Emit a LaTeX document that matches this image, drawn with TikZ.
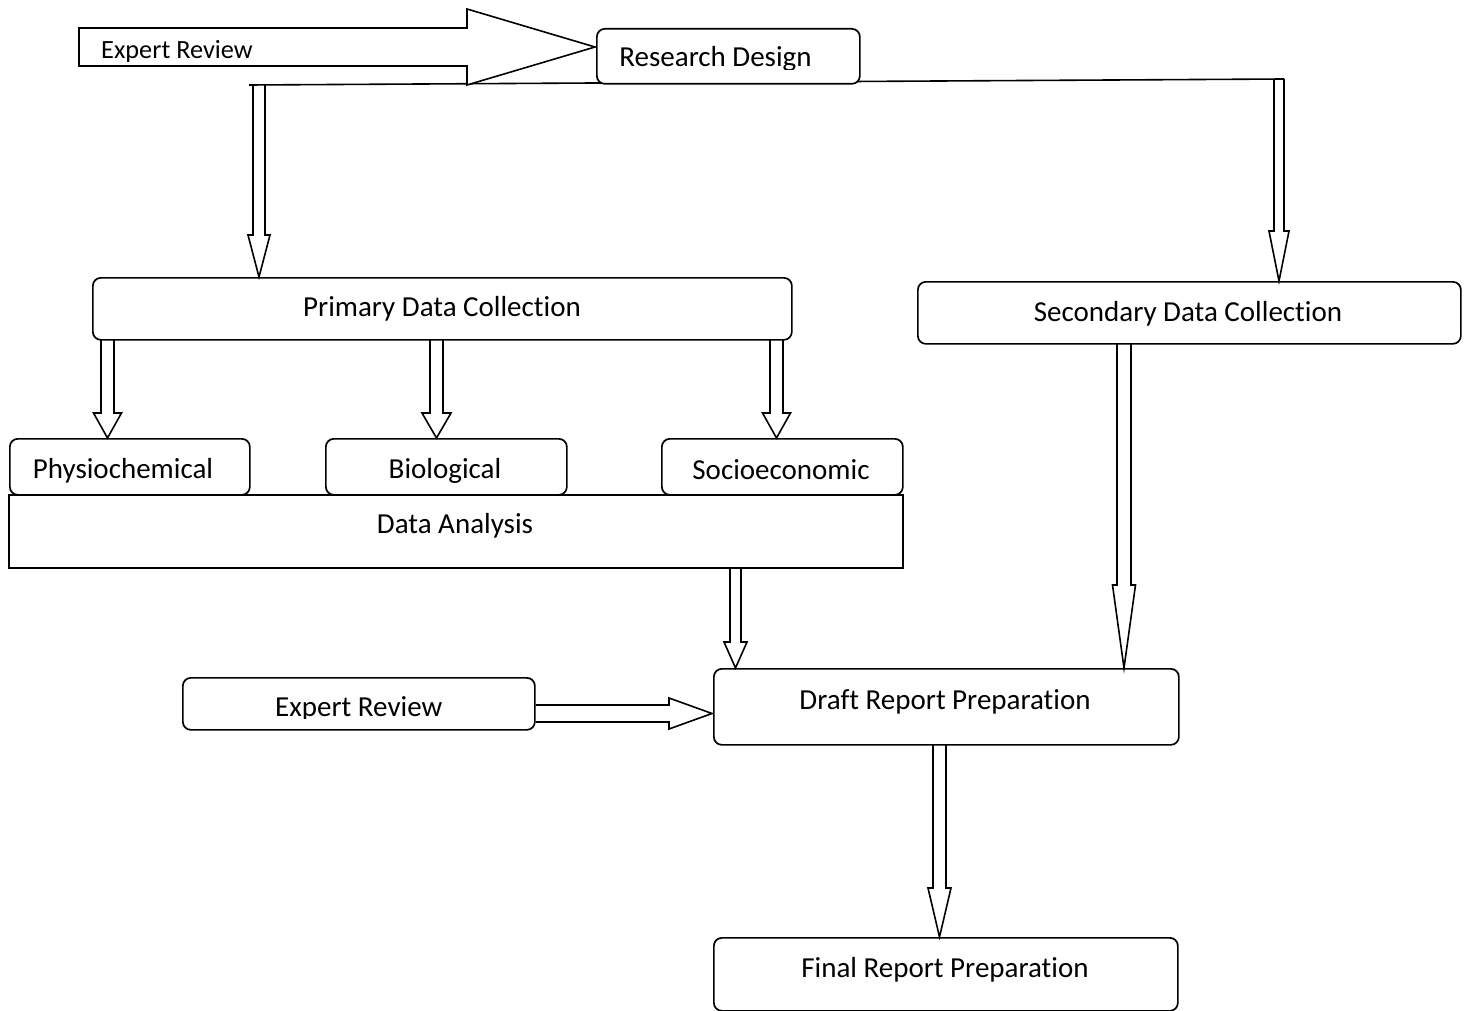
\documentclass[tikz,border=0pt]{standalone}
\usepackage{fontspec}
\setmainfont{Carlito}[Ligatures={NoCommon,NoContextual}]
\tikzset{
  rbox/.style={draw, line width=1.7pt, rounded corners=8pt, fill=white, inner sep=0pt, anchor=north west},
  sbox/.style={draw, line width=1.7pt, fill=white, inner sep=0pt, anchor=north west},
  arr/.style={draw, line width=1.6pt, line join=miter},
  lbl/.style={inner sep=0pt, anchor=base, font=\fontsize{29}{34}\selectfont},
  lbls/.style={inner sep=0pt, anchor=base west, font=\fontsize{26.3}{31}\selectfont}
}
% #1 name, #2 x1, #3 y1, #4 x2, #5 y2, #6 style
\newcommand\bx[6]{\node[#6, minimum width={#4-#2}, minimum height={#5-#3}] (#1) at (#2,#3) {};}
% down block arrow: #1 x center, #2 y top, #3 y head base, #4 y tip, #5 shaft half width, #6 head half width
\newcommand\blkdown[6]{\draw[arr] ({#1-#5},#2) -- ({#1-#5},#3) -- ({#1-#6},#3) -- (#1,#4) -- ({#1+#6},#3) -- ({#1+#5},#3) -- ({#1+#5},#2);}
\begin{document}
\begin{tikzpicture}[x=1pt,y=-1pt]
\useasboundingbox (0,0) rectangle (1467,1011);
% top line from the big arrow to the right branch
\coordinate (lineL) at (249,85);
\coordinate (lineR) at (1284,79);
\draw[line width=1.6pt] (lineL) -- (lineR);
% big top block arrow
\draw[arr, fill=white] (79,28) -- (467,28) -- (467,9) -- (595,47) -- (467,85) -- (467,66) -- (79,66) -- cycle;
\begin{scope}
\clip (79,0) rectangle (467,62);
\node[lbls] (er1) at (101,59) {Expert Review};
\end{scope}
% boxes
\bx{rd}{596}{28}{859}{83}{rbox}
\begin{scope}
\clip (596,0) rectangle (859,70);
\node[lbl] (trd) at (715.5,67) {Research Design};
\end{scope}
\bx{pdc}{92}{277}{791}{339}{rbox}
\node[lbl] (tpdc) at (442,316) {Primary Data Collection};
\bx{sdc}{917}{281}{1460}{343}{rbox}
\node[lbl] (tsdc) at (1188,321) {Secondary Data Collection};
\bx{da}{8}{494}{902}{567}{sbox}
\node[lbl] (tda) at (455,533) {Data Analysis};
\bx{phy}{9}{438}{249}{494}{rbox}
\bx{bio}{325}{438}{566}{494}{rbox}
\bx{soc}{661}{438}{902}{494}{rbox}
\begin{scope}
\clip (0,430) rectangle (600,482);
\node[lbl] (tphy) at (123,478) {Physiochemical};
\node[lbl] (tbio) at (445,478) {Biological};
\end{scope}
\node[lbl] (tsoc) at (781,479) {Socioeconomic};
\bx{drf}{713}{668}{1178}{744}{rbox}
\node[lbl] (tdrf) at (945,709) {Draft Report Preparation};
\bx{er2}{182}{677}{534}{729}{rbox}
\begin{scope}
\clip (182,670) rectangle (534,718);
\node[lbl, anchor=base west] (ter2) at (275,716) {Expert Review};
\end{scope}
\bx{fin}{713}{937}{1177}{1010}{rbox}
\node[lbl] (tfin) at (945,977) {Final Report Preparation};
% block arrows
\blkdown{259}{85}{235}{277}{6}{11}
\blkdown{1279}{79}{231}{281}{5}{10}
\blkdown{107.5}{339}{413}{438}{6.5}{14}
\blkdown{436.5}{339}{413}{438}{6.5}{14.5}
\blkdown{776.5}{339}{413}{438}{6.5}{14}
\blkdown{735.5}{567}{642}{668}{5.5}{11.5}
\blkdown{1124}{343}{585}{668}{7}{11.5}
\blkdown{939.5}{744}{888}{937}{6.5}{11.5}
\draw[arr] (er2.east |- 0,705) -- (669,705) -- (669,698) -- (712,713.5) -- (669,729) -- (669,722) -- (er2.east |- 0,722);
\end{tikzpicture}
\end{document}
